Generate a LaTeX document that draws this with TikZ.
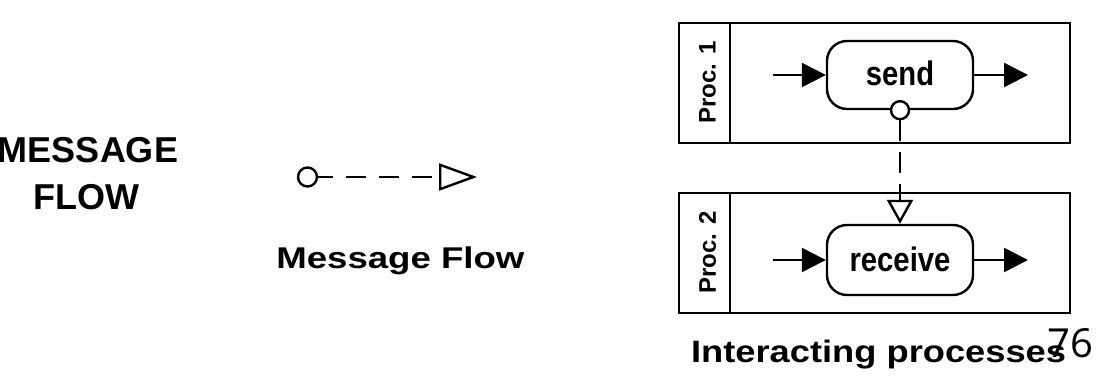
\documentclass[tikz,border=0pt]{standalone}
\usepackage{fontspec}
\setmainfont{Liberation Sans}
\newfontfamily\pagefont{Open Sans}
\usetikzlibrary{arrows.meta,calc}
\tikzset{
  lane/.style={draw, line width=2.4pt, minimum width=391pt, minimum height=120pt, inner sep=0},
  task/.style={draw, line width=2.4pt, rounded corners=20pt, minimum width=146pt, inner sep=0, text height=22pt, text depth=0pt, font=\fontsize{34}{38}\selectfont\bfseries},
  flowarr/.style={line width=2.5pt, -{Triangle[length=24pt,width=24pt]}},
  msgline/.style={line width=2.5pt},
  msgcirc/.style={draw, circle, line width=2.4pt, fill=white, minimum size=17pt, inner sep=0},
  lanelabel/.style={rotate=90, font=\fontsize{24}{28}\selectfont\bfseries},
  bigtext/.style={font=\fontsize{36}{40}\selectfont\bfseries, anchor=base},
}
\begin{document}
\begin{tikzpicture}[x=1pt,y=-1pt]
\useasboundingbox (0,0) rectangle (1099,379);
% left title
\node[bigtext] (title1) at (88,163) {MESSAGE};
\node[bigtext] (title2) at (86,210) {FLOW};
% legend symbol
\node[msgcirc, minimum size=19pt] (lc) at (307.5,177) {};
\coordinate (lend) at (477,177);
\draw[msgline, dash pattern=on 20pt off 13pt, dash phase=5pt, -{Triangle[open,length=38pt,width=27pt,line width=2.4pt]}] (lc.east) -- (lend);
\node[font=\fontsize{30}{34}\selectfont\bfseries, anchor=base west, xscale=1.22] (legend) at (272,268) {Message Flow};
% lanes
\node[lane] (p1) at (874.5,83) {};
\node[lane] (p2) at (874.5,253) {};
\draw[line width=2.4pt] ($(p1.north west)+(52,0)$) coordinate (d1a) -- ($(p1.south west)+(52,0)$) coordinate (d1b);
\draw[line width=2.4pt] ($(p2.north west)+(52,0)$) coordinate (d2a) -- ($(p2.south west)+(52,0)$) coordinate (d2b);
\node[lanelabel] (l1) at (707.5,82.5) {Proc. 1};
\node[lanelabel] (l2) at (707.5,252.5) {Proc. 2};
% tasks
\node[task, minimum height=68pt] (send) at (900,75) {\scalebox{0.86}[1]{send}};
\node[task, minimum height=70pt] (recv) at (900,260) {\scalebox{0.86}[1]{receive}};
\coordinate (s1) at (773,75);
\coordinate (s2) at (1028,75);
\coordinate (r1) at (773,260);
\coordinate (r2) at (1028,260);
\draw[flowarr] (s1) -- (send.west);
\draw[flowarr] (send.east) -- (s2);
\draw[flowarr] (r1) -- (recv.west);
\draw[flowarr] (recv.east) -- (r2);
% message flow
\node[msgcirc, minimum size=18pt] (mc) at (send.south) {};
\draw[msgline, dash pattern=on 21pt off 11pt, -{Triangle[open,length=24pt,width=26pt,line width=2.4pt]}] (mc.south) -- (recv.north);
% caption
\node[font=\fontsize{31}{35}\selectfont\bfseries, anchor=base west, xscale=1.17] (cap) at (687,362) {Interacting processes};
\node[font=\fontsize{40}{44}\selectfont\pagefont, anchor=base west] (page) at (1044,357) {76};
\end{tikzpicture}
\end{document}
